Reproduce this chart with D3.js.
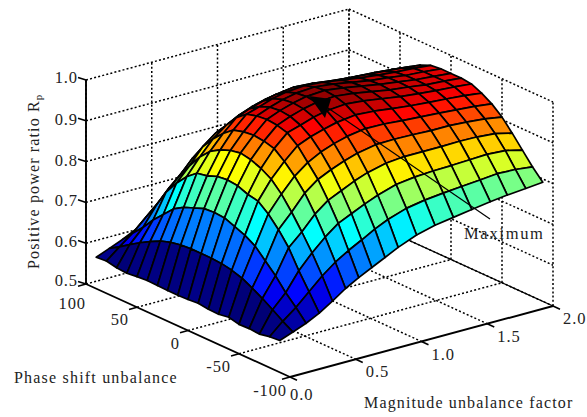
<!DOCTYPE html>
<html>
<head>
<meta charset="utf-8">
<script src="https://cdn.jsdelivr.net/npm/d3@7/dist/d3.min.js"></script>
<style>
html,body{margin:0;padding:0;background:#fff;}
svg{display:block;}
text{font-family:"Liberation Serif","Times New Roman",serif;fill:#222;}
</style>
</head>
<body>
<svg id="chart" width="587" height="417"></svg>
<script>
const zTicks = [0.5,0.6,0.7,0.8,0.9,1.0];
const phaseTicks = [100,50,0,-50,-100];
const magTicks = [0,0.5,1.0,1.5,2.0];

const magnitudes = [0,0.1,0.2,0.3,0.4,0.5,0.6,0.7,0.8,0.9,1.04,1.18,1.32,1.46,1.6,1.73,1.87,2];
const phases = [90,80,70,60,50,40,30,20,10,0,-10,-20,-30,-40,-50,-60,-70,-80,-90];

const ratio = [
[.577,.579,.574,.572,.575,.577,.576,.575,.575,.576,.578,.575,.574,.578,.572,.573,.571,.576,.578],
[.590,.605,.622,.638,.652,.665,.673,.678,.680,.680,.680,.678,.673,.665,.652,.638,.622,.605,.590],
[.603,.630,.655,.685,.710,.735,.750,.760,.770,.772,.770,.760,.750,.735,.710,.685,.655,.630,.603],
[.619,.660,.700,.745,.778,.805,.825,.830,.840,.843,.840,.830,.825,.805,.778,.745,.700,.660,.619],
[.640,.690,.735,.775,.812,.845,.870,.885,.895,.900,.895,.885,.870,.845,.812,.775,.735,.690,.640],
[.662,.715,.765,.810,.850,.880,.905,.925,.932,.935,.932,.925,.905,.880,.850,.810,.765,.715,.662],
[.680,.735,.790,.835,.875,.905,.935,.955,.962,.965,.962,.955,.935,.905,.875,.835,.790,.735,.680],
[.696,.752,.805,.850,.890,.922,.948,.965,.975,.978,.975,.965,.948,.922,.890,.850,.805,.752,.696],
[.712,.770,.820,.865,.903,.934,.958,.976,.985,.988,.985,.976,.958,.934,.903,.865,.820,.770,.712],
[.728,.785,.833,.877,.913,.943,.966,.983,.992,.995,.992,.983,.966,.943,.913,.877,.833,.785,.728],
[.746,.800,.847,.888,.922,.950,.972,.987,.995,.998,.995,.987,.972,.950,.922,.888,.847,.800,.746],
[.758,.808,.853,.892,.923,.949,.969,.983,.990,.992,.990,.983,.969,.949,.923,.892,.853,.808,.758],
[.765,.813,.856,.892,.922,.945,.963,.976,.982,.984,.982,.976,.963,.945,.922,.892,.856,.813,.765],
[.772,.817,.857,.892,.920,.942,.958,.969,.974,.976,.974,.969,.958,.942,.920,.892,.857,.817,.772],
[.779,.821,.859,.893,.920,.939,.954,.964,.969,.970,.969,.964,.954,.939,.920,.893,.859,.821,.779],
[.784,.825,.861,.892,.917,.936,.951,.960,.963,.964,.963,.960,.951,.936,.917,.892,.861,.825,.784],
[.788,.823,.858,.888,.913,.932,.947,.957,.960,.960,.960,.957,.947,.932,.913,.888,.858,.823,.788],
[.792,.818,.848,.878,.906,.927,.942,.953,.956,.956,.956,.953,.942,.927,.906,.878,.848,.818,.792]
];

const maxLabel = "Maximum";
const xLabel = "Magnitude unbalance factor";
const yLabel = "Phase shift unbalance";
const zLabel = "Positive power ratio R";

/* Oblique projection of the 3-D box: each data axis adds a screen offset. */
const mX = d3.scaleLinear().domain([0,2]).range([0,263]);
const mY = d3.scaleLinear().domain([0,2]).range([0,-71]);
const pX = d3.scaleLinear().domain([100,-100]).range([0,204]);
const pY = d3.scaleLinear().domain([100,-100]).range([0,93]);
const zY = d3.scaleLinear().domain([0.5,1]).range([0,-204]);
const origin = [86,284];
const proj = (m,p,z) => [origin[0]+mX(m)+pX(p), origin[1]+mY(m)+pY(p)+zY(z)];

const color = d3.scaleSequential(t => {
  const c = v => Math.max(0,Math.min(1,v));
  const r = c(1.5-Math.abs(4*t-3));
  const g = c(1.5-Math.abs(4*t-2));
  const b = c(1.5-Math.abs(4*t-1));
  return d3.rgb(r*255,g*255,b*255);
}).domain([0.575,1.0]);

const svg = d3.select("#chart");
const seg = (a,b) => svg.append("line").attr("x1",a[0]).attr("y1",a[1]).attr("x2",b[0]).attr("y2",b[1]);
const dotted = (a,b) => seg(a,b).attr("stroke","#000").attr("stroke-width",1.5).attr("stroke-dasharray","2 2.2");
const solid = (a,b,w) => seg(a,b).attr("stroke","#000").attr("stroke-width",w);

const [zLo,zHi] = d3.extent(zTicks);
/* back wall at phase = 100 and side wall at magnitude = 2 */
zTicks.forEach(z => {
  dotted(proj(0,100,z),proj(2,100,z));
  dotted(proj(2,100,z),proj(2,-100,z));
});
magTicks.forEach(m => {
  dotted(proj(m,100,zLo),proj(m,100,zHi));
});
phaseTicks.forEach(p => {
  dotted(proj(2,p,zLo),proj(2,p,zHi));
});
/* floor */
magTicks.slice(1,-1).forEach(m => dotted(proj(m,100,zLo),proj(m,-100,zLo)));
phaseTicks.slice(1,-1).forEach(p => dotted(proj(0,p,zLo),proj(2,p,zLo)));

/* axes */
solid(proj(0,100,zLo),proj(0,100,zHi),1.9);
solid(proj(0,100,zLo),proj(0,-100,zLo),1.8);
solid(proj(0,-100,zLo),proj(2,-100,zLo),1.9);
solid(proj(2,100,zLo),proj(2,-100,zLo),1.3);

const tick = 8;
zTicks.forEach(z => {
  const a = proj(0,100,z);
  solid(a,[a[0]-tick,a[1]-2.6],1.6);
  svg.append("text").attr("x",a[0]-8).attr("y",a[1]+(z===zLo?2:z===zHi?3:4)).attr("text-anchor","end")
    .attr("font-size",16.5).attr("letter-spacing",0.9).text(z.toFixed(1));
});
phaseTicks.forEach((p,i) => {
  const a = proj(0,p,zLo);
  solid(a,[a[0]-tick,a[1]+2.2],1.6);
  const dx = i===0?0:(i===phaseTicks.length-1?-3:-8);
  const dy = i===0?25:(i===phaseTicks.length-1?19:18);
  svg.append("text").attr("x",a[0]+dx).attr("y",a[1]+dy).attr("text-anchor","end")
    .attr("font-size",16.5).attr("letter-spacing",0.9).text(p);
});
magTicks.forEach((m,i) => {
  const a = proj(m,-100,zLo);
  solid(a,[a[0]+7,a[1]+3.2],1.6);
  const dx = i===0?0:10;
  const dy = i===0?23:18;
  svg.append("text").attr("x",a[0]+dx).attr("y",a[1]+dy).attr("text-anchor","start")
    .attr("font-size",16.5).attr("letter-spacing",0.9).text(m.toFixed(1));
});

/* surface: painter's order, farthest cells first */
const quad = d3.line();
for (let i = magnitudes.length-2; i >= 0; i--) {
  for (let k = 0; k < phases.length-1; k++) {
    const pts = [
      proj(magnitudes[i],phases[k],ratio[i][k]),
      proj(magnitudes[i+1],phases[k],ratio[i+1][k]),
      proj(magnitudes[i+1],phases[k+1],ratio[i+1][k+1]),
      proj(magnitudes[i],phases[k+1],ratio[i][k+1])
    ];
    svg.append("path").attr("d",quad(pts)+"Z")
      .attr("fill",color(ratio[i][k+1]))
      .attr("stroke","#000").attr("stroke-width",1.7).attr("stroke-linejoin","round");
  }
}

/* annotation */
const arrowTail = [490,219], arrowTip = [309,96];
solid(arrowTail,[328,108],1.2);
svg.append("path").attr("d",quad([arrowTip,[331,99],[325,118]])+"Z").attr("fill","#000");
svg.append("text").attr("x",464).attr("y",239).attr("font-size",16.5).attr("letter-spacing",1.7).text(maxLabel);

svg.append("text").attr("x",14).attr("y",383).attr("font-size",16).attr("letter-spacing",1.2).text(yLabel);
svg.append("text").attr("x",364).attr("y",408).attr("font-size",16).attr("letter-spacing",1.15).text(xLabel);
const zt = svg.append("text").attr("transform","translate(39,269) rotate(-90)").attr("font-size",16).attr("letter-spacing",1.15);
zt.append("tspan").text(zLabel);
zt.append("tspan").attr("dy",3).attr("font-size",11).text("p");
</script>
</body>
</html>
